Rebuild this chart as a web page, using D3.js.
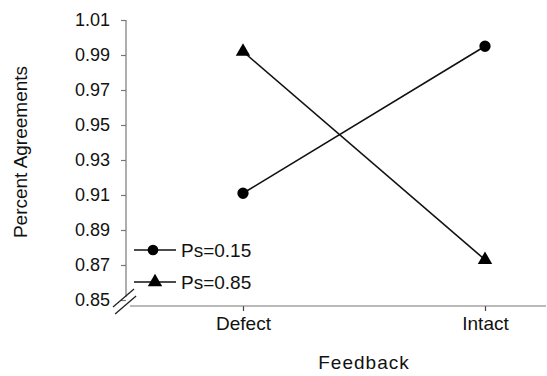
<!DOCTYPE html>
<html>
<head>
<meta charset="utf-8">
<script src="https://cdn.jsdelivr.net/npm/d3@7"></script>
<style>
  body { margin: 0; background: #fff; }
  svg { font-family: "Liberation Sans", Arial, sans-serif; }
</style>
</head>
<body>
<svg id="chart" width="547" height="376"></svg>
<script>
// Datos
const categories = ["Defect", "Intact"];
const seriesNames = ["Ps=0.15", "Ps=0.85"];
const ps015 = [0.911, 0.995];
const ps085 = [0.992, 0.873];
const yTicks = [0.85, 0.87, 0.89, 0.91, 0.93, 0.95, 0.97, 0.99, 1.01];

const svg = d3.select("#chart");

// Escalas
const x = d3.scalePoint().domain(categories).range([243, 485]);
const y = d3.scaleLinear().domain([0.85, 1.01]).range([300, 20]);

const axisColor = "#777";
const axisX0 = 126;   // posicion del eje y
const axisY0 = 306;   // posicion del eje x

// Eje Y
const yAxis = svg.append("g")
    .attr("transform", `translate(${axisX0},0)`)
    .call(d3.axisLeft(y).tickValues(yTicks).tickFormat(d3.format(".2f")).tickSize(5).tickPadding(11).tickSizeOuter(0));
yAxis.select(".domain").remove();
yAxis.append("line")
    .attr("x1", 0).attr("x2", 0)
    .attr("y1", y(1.01)).attr("y2", 297)
    .attr("stroke", axisColor).attr("stroke-width", 1.2);
yAxis.selectAll(".tick line").attr("stroke", axisColor).attr("stroke-width", 1.2);
yAxis.selectAll(".tick text").attr("font-size", 18).attr("fill", "#111")
    .attr("font-family", "Liberation Sans, Arial, sans-serif");

// Eje X
const xAxis = svg.append("g")
    .attr("transform", `translate(0,${axisY0})`)
    .call(d3.axisBottom(x).tickSize(5).tickPadding(6).tickSizeOuter(0));
xAxis.select(".domain").remove();
xAxis.append("line")
    .attr("x1", 130).attr("x2", 546)
    .attr("y1", 0).attr("y2", 0)
    .attr("stroke", axisColor).attr("stroke-width", 1.2);
xAxis.selectAll(".tick line").attr("stroke", "#444").attr("stroke-width", 1.2);
xAxis.selectAll(".tick text").attr("font-size", 19).attr("fill", "#111")
    .attr("font-family", "Liberation Sans, Arial, sans-serif");

// Marca de corte
[0, 7].forEach(off => {
    svg.append("line")
        .attr("x1", 113 + off * 0.3).attr("y1", 307 + off)
        .attr("x2", 134 + off * 0.3).attr("y2", 289 + off)
        .attr("stroke", "#222").attr("stroke-width", 1.3);
});

// Titulos de ejes
svg.append("text")
    .attr("transform", "translate(27,152) rotate(-90)")
    .attr("text-anchor", "middle")
    .attr("font-size", 19)
    .attr("fill", "#111")
    .text("Percent Agreements");

svg.append("text")
    .attr("x", 364).attr("y", 369)
    .attr("text-anchor", "middle")
    .attr("font-size", 19)
    .attr("letter-spacing", 1)
    .attr("fill", "#111")
    .text("Feedback");

// Series
const series = [
    { name: seriesNames[0], values: ps015, symbol: d3.symbolCircle, size: 100 },
    { name: seriesNames[1], values: ps085, symbol: d3.symbolTriangle, size: 90 }
];

const line = d3.line()
    .x((d, i) => x(categories[i]))
    .y(d => y(d));

series.forEach(s => {
    svg.append("path")
        .datum(s.values)
        .attr("fill", "none")
        .attr("stroke", "#111")
        .attr("stroke-width", 1.6)
        .attr("d", line);

    svg.selectAll(null)
        .data(s.values)
        .enter()
        .append("path")
        .attr("transform", (d, i) => `translate(${x(categories[i])},${y(d)})`)
        .attr("d", d3.symbol().type(s.symbol).size(s.size))
        .attr("fill", "#000");
});

// Leyenda
const legend = svg.append("g");
series.forEach((s, i) => {
    const ly = 250 + i * 32;
    legend.append("line")
        .attr("x1", 134).attr("x2", 176)
        .attr("y1", ly).attr("y2", ly)
        .attr("stroke", "#111").attr("stroke-width", 1.6);
    legend.append("path")
        .attr("transform", `translate(${i === 0 ? 153 : 155},${ly})`)
        .attr("d", d3.symbol().type(s.symbol).size(90))
        .attr("fill", "#000");
    legend.append("text")
        .attr("x", 181).attr("y", ly)
        .attr("dy", "0.35em")
        .attr("font-size", 19)
        .attr("fill", "#111")
        .text(s.name);
});
</script>
</body>
</html>
